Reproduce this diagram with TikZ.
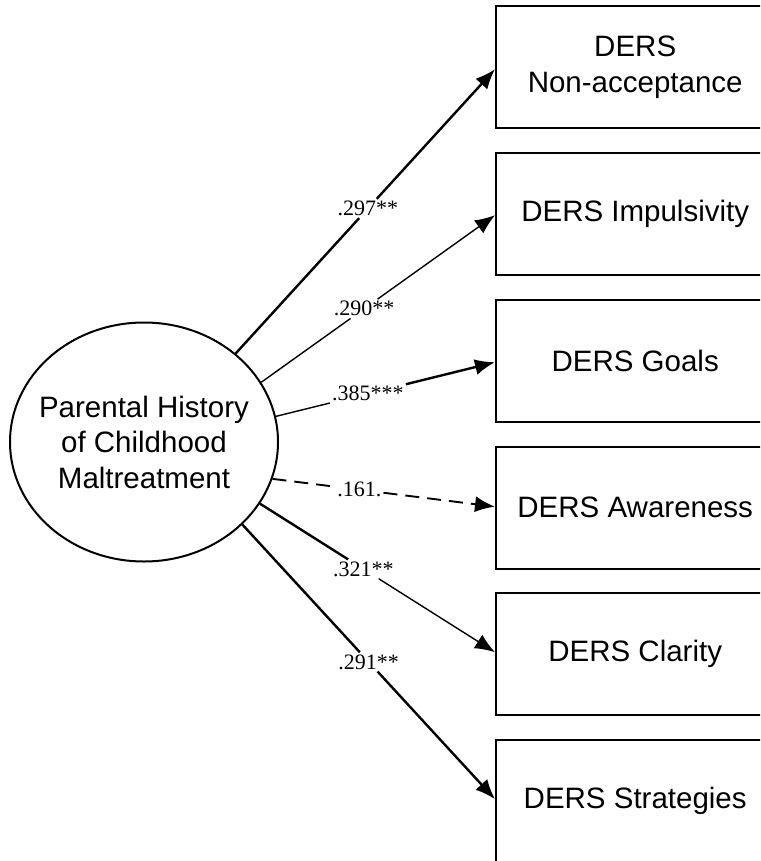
\documentclass[tikz,border=0pt]{standalone}
\usepackage{fontspec}
\setmainfont{Liberation Serif}
\newfontfamily\labelsans{Liberation Sans}
\usetikzlibrary{shapes.geometric,arrows.meta,calc}

\tikzset{
  measure/.style={minimum width=278pt, minimum height=122pt,
    inner sep=0pt, align=center, font=\labelsans\fontsize{29.5}{36}\selectfont},
  boxline/.style={line width=2pt},
  latent/.style={draw, ellipse, line width=2pt, minimum width=268pt, minimum height=239pt,
    inner sep=0pt},
  latenttext/.style={align=center, inner sep=0pt, font=\labelsans\fontsize{29.5}{35.5}\selectfont},
  coef/.style={inner sep=2pt, font=\fontsize{22}{24}\selectfont},
  path/.style={line width=1.4pt},
  strong/.style={line width=2.4pt},
  tip/.style={-{Latex[length=20pt,width=16pt]}},
  dashedpath/.style={line width=1.9pt, dash pattern=on 14pt off 8pt}
}

\begin{document}
\begin{tikzpicture}[x=1pt,y=-1pt]
\useasboundingbox (0,0) rectangle (760,861);
\clip (0,0) rectangle (760,861);

% outcome boxes (they run on past the right edge of the frame)
\node[measure, anchor=north west] (b1) at (496,6)     {DERS\\Non-acceptance};
\node[measure, anchor=north west] (b2) at (496,153)   {DERS Impulsivity};
\node[measure, anchor=north west] (b3) at (496,300)   {DERS Goals};
\node[measure, anchor=north west] (b4) at (496,446.5) {DERS Awareness};
\node[measure, anchor=north west] (b5) at (496,593)   {DERS Clarity};
\node[measure, anchor=north west] (b6) at (496,740)   {DERS Strategies};
\foreach \b in {b1,b2,b3,b4,b5,b6}{
  \draw[boxline] ($(\b.north east)+(20,0)$) -- (\b.north west) -- (\b.south west) -- ($(\b.south east)+(20,0)$);
}

% predictor
\node[latent] (ell) at (144,442) {};
\node[latenttext] (elltext) at (ell.center) {Parental History\\of Childhood\\Maltreatment};

% start points on the ellipse
\coordinate (s1) at (ell.44);
\coordinate (s2) at (ell.27);
\coordinate (s3) at (ell.11);
\coordinate (s4) at (ell.-16);
\coordinate (s5) at (ell.-28.5);
\coordinate (s6) at (ell.-40.3);

% end points on the boxes
\coordinate (e1) at ($(b1.west)+(-1,2)$);
\coordinate (e2) at ($(b2.west)+(-1,1)$);
\coordinate (e3) at ($(b3.west)+(-1,1)$);
\coordinate (e4) at ($(b4.west)+(-1,-1)$);
\coordinate (e5) at ($(b5.west)+(-1,-2)$);
\coordinate (e6) at ($(b6.west)+(-1,-2)$);

% path coefficients
\node[coef] (c1) at ($(s1)!0.51!(e1)$) {.297**};
\node[coef] (c2) at ($(s2)!0.44!(e2)$) {.290**};
\node[coef] (c3) at ($(s3)!0.42!(e3)$) {.385***};
\node[coef] (c4) at ($(s4)!0.39!(e4)$) {.161.};
\node[coef] (c5) at ($(s5)!0.44!(e5)$) {.321**};
\node[coef] (c6) at ($(s6)!0.50!(e6)$) {.291**};

% paths
\draw[strong] (s1) -- (c1);
\draw[strong, tip] (c1) -- (e1);

\draw[path] (s2) -- (c2);
\draw[path, tip] (c2) -- (e2);

\draw[path] (s3) -- (c3);
\draw[strong, tip] (c3) -- (e3);

\draw[dashedpath] (s4) -- (c4);
\draw[dashedpath, tip] (c4) -- (e4);

\draw[strong] (s5) -- (c5);
\draw[path, tip] (c5) -- (e5);

\draw[strong] (s6) -- (c6);
\draw[strong, tip] (c6) -- (e6);
\end{tikzpicture}
\end{document}
